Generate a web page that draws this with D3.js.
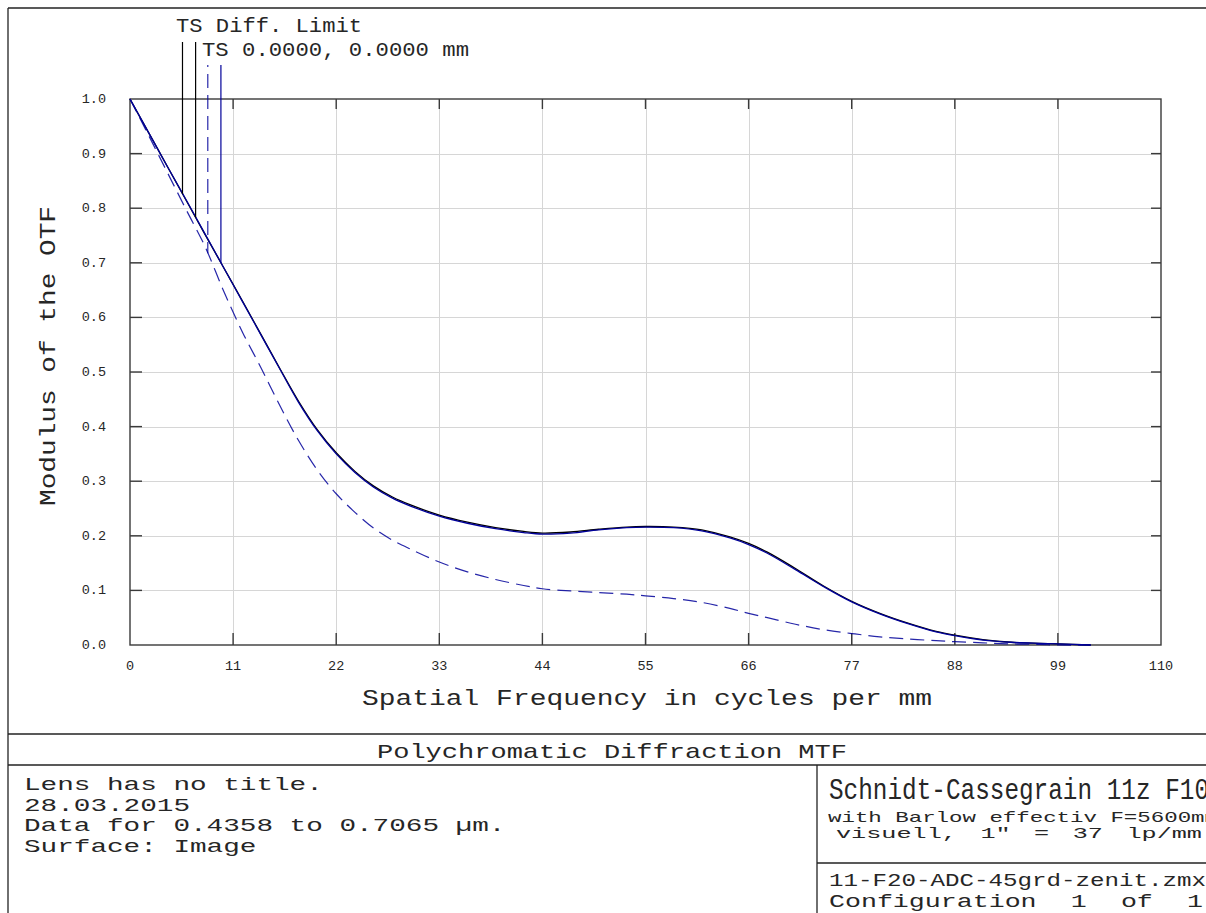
<!DOCTYPE html>
<html>
<head>
<meta charset="utf-8">
<script src="https://cdn.jsdelivr.net/npm/d3@7"></script>
<style>
	body { margin: 0; background: #fff; }
	svg { display: block; }
	text { font-family: "Liberation Mono", "Courier New", monospace; fill: #262626; }
</style>
</head>
<body>
<svg id="chart" width="1206" height="913"></svg>
<script>
//spatial frequency samples (cycles per mm)
var freq = [ 0, 2, 4, 6, 8, 10, 12, 14, 16, 18, 20, 22, 24, 26, 28, 30, 33, 36, 39, 42, 44, 47, 50, 53, 55, 58, 61, 64, 66, 68, 71, 74, 77, 80, 83, 86, 88, 91, 94, 97, 99, 102.5 ];

//modulus values
var diffLimit = [ 1.000, 0.938, 0.876, 0.814, 0.752, 0.691, 0.630, 0.568, 0.506, 0.446, 0.394, 0.352, 0.318, 0.291, 0.271, 0.256, 0.238, 0.225, 0.215, 0.208, 0.205, 0.207, 0.212, 0.216, 0.217, 0.216, 0.211, 0.198, 0.186, 0.170, 0.140, 0.108, 0.080, 0.058, 0.040, 0.025, 0.018, 0.010, 0.005, 0.003, 0.002, 0.000 ];
var tangential = [ 1.000, 0.938, 0.876, 0.815, 0.753, 0.691, 0.629, 0.567, 0.505, 0.444, 0.392, 0.350, 0.316, 0.289, 0.269, 0.254, 0.236, 0.223, 0.213, 0.206, 0.203, 0.205, 0.211, 0.215, 0.216, 0.215, 0.209, 0.196, 0.184, 0.168, 0.138, 0.107, 0.079, 0.057, 0.039, 0.024, 0.017, 0.009, 0.005, 0.003, 0.002, 0.000 ];
var sagittal = [ 1.000, 0.933, 0.865, 0.797, 0.730, 0.648, 0.573, 0.507, 0.438, 0.374, 0.320, 0.277, 0.243, 0.214, 0.192, 0.175, 0.152, 0.134, 0.120, 0.109, 0.103, 0.099, 0.096, 0.093, 0.090, 0.085, 0.078, 0.067, 0.058, 0.050, 0.038, 0.028, 0.021, 0.015, 0.011, 0.008, 0.006, 0.004, 0.002, 0.001, 0.000, 0.000 ];

//axis ticks
var xTicks = [ 0, 11, 22, 33, 44, 55, 66, 77, 88, 99, 110 ];
var yTicks = [ 0, 0.1, 0.2, 0.3, 0.4, 0.5, 0.6, 0.7, 0.8, 0.9, 1.0 ];

//legend marker frequencies
var diffMarkers = [ 5.6, 7.0 ];
var fieldMarkers = [ 8.3, 9.7 ];

//texts
var legendLabels = [ "TS Diff. Limit", "TS 0.0000, 0.0000 mm" ];
var xTitle = "Spatial Frequency in cycles per mm";
var yTitle = "Modulus of the OTF";
var plotTitle = "Polychromatic Diffraction MTF";
var infoLines = [ "Lens has no title.", "28.03.2015", "Data for 0.4358 to 0.7065 \u00b5m.", "Surface: Image" ];
var lensName = "Schnidt-Cassegrain 11z F10";
var lensNotes = [ "with Barlow effectiv F=5600mm", "visuell, 1\" = 37 lp/mm" ];
var fileLines = [ "11-F20-ADC-45grd-zenit.zmx", "Configuration 1 of 1" ];

;( function() {

	"use strict";

	var W = 1206, H = 913,
		plotLeft = 130, plotRight = 1161, plotTop = 99, plotBottom = 645,
		blue = "#00009a", frameColor = "#3a3a3a", gridColor = "#d6d6d6";

	var svg = d3.select( "#chart" );

	var x = d3.scaleLinear().domain( [ 0, 110 ] ).range( [ plotLeft, plotRight ] ),
		y = d3.scaleLinear().domain( [ 0, 1 ] ).range( [ plotBottom, plotTop ] );

	var txt = function( g, s, px, py, size, width, anchor ) {
		var t = g.append( "text" )
			.attr( "x", px )
			.attr( "y", py )
			.attr( "font-size", size )
			.attr( "text-anchor", anchor || "start" )
			.text( s );
		if( width ) {
			t.attr( "textLength", width ).attr( "lengthAdjust", "spacingAndGlyphs" );
		}
		return t;
	};

	//outer frame and info box lines
	var frame = svg.append( "g" ).attr( "stroke", "#222" ).attr( "stroke-width", 1.3 );
	frame.append( "line" ).attr( "x1", 8 ).attr( "y1", 8 ).attr( "x2", W ).attr( "y2", 8 );
	frame.append( "line" ).attr( "x1", 8 ).attr( "y1", 8 ).attr( "x2", 8 ).attr( "y2", H );
	frame.append( "line" ).attr( "x1", 8 ).attr( "y1", 734 ).attr( "x2", W ).attr( "y2", 734 );
	frame.append( "line" ).attr( "x1", 8 ).attr( "y1", 765 ).attr( "x2", W ).attr( "y2", 765 );
	frame.append( "line" ).attr( "x1", 817 ).attr( "y1", 765 ).attr( "x2", 817 ).attr( "y2", H );
	frame.append( "line" ).attr( "x1", 817 ).attr( "y1", 863 ).attr( "x2", W ).attr( "y2", 863 );

	//grid
	var grid = svg.append( "g" ).attr( "stroke", gridColor ).attr( "stroke-width", 1 );
	grid.selectAll( ".gx" ).data( xTicks.slice( 1, -1 ) ).enter().append( "line" )
		.attr( "x1", function( d ) { return Math.round( x( d ) ) + 0.5; } )
		.attr( "x2", function( d ) { return Math.round( x( d ) ) + 0.5; } )
		.attr( "y1", plotTop ).attr( "y2", plotBottom );
	grid.selectAll( ".gy" ).data( yTicks.slice( 1, -1 ) ).enter().append( "line" )
		.attr( "y1", function( d ) { return Math.round( y( d ) ) + 0.5; } )
		.attr( "y2", function( d ) { return Math.round( y( d ) ) + 0.5; } )
		.attr( "x1", plotLeft ).attr( "x2", plotRight );

	//frame of plot with inward ticks
	var axisG = svg.append( "g" ).attr( "stroke", frameColor ).attr( "stroke-width", 1.4 ).attr( "fill", "none" );
	axisG.append( "rect" ).attr( "x", plotLeft ).attr( "y", plotTop ).attr( "width", plotRight - plotLeft ).attr( "height", plotBottom - plotTop );
	axisG.selectAll( ".tb" ).data( xTicks.slice( 1, -1 ) ).enter().append( "line" )
		.attr( "x1", function( d ) { return x( d ); } ).attr( "x2", function( d ) { return x( d ); } )
		.attr( "y1", plotBottom ).attr( "y2", plotBottom - 12 );
	axisG.selectAll( ".tt" ).data( xTicks.slice( 1, -1 ) ).enter().append( "line" )
		.attr( "x1", function( d ) { return x( d ); } ).attr( "x2", function( d ) { return x( d ); } )
		.attr( "y1", plotTop ).attr( "y2", plotTop + 10 );
	axisG.selectAll( ".tl" ).data( yTicks.slice( 1, -1 ) ).enter().append( "line" )
		.attr( "y1", function( d ) { return y( d ); } ).attr( "y2", function( d ) { return y( d ); } )
		.attr( "x1", plotLeft ).attr( "x2", plotLeft + 12 );
	axisG.selectAll( ".tr" ).data( yTicks.slice( 1, -1 ) ).enter().append( "line" )
		.attr( "y1", function( d ) { return y( d ); } ).attr( "y2", function( d ) { return y( d ); } )
		.attr( "x1", plotRight ).attr( "x2", plotRight - 10 );

	//tick labels
	var labels = svg.append( "g" );
	xTicks.forEach( function( d ) {
		txt( labels, d, x( d ), 670, 13.5, null, "middle" );
	} );
	yTicks.forEach( function( d ) {
		txt( labels, d3.format( ".1f" )( d ), 106, y( d ) + 4, 13.5, null, "end" );
	} );

	//axis titles
	txt( labels, xTitle, 647, 705, 22, 570, "middle" );
	txt( labels, yTitle, 0, 0, 22, 300, "middle" ).attr( "transform", "translate(55,356) rotate(-90)" );

	//curves
	var line = function( values ) {
		return d3.line()
			.x( function( d, i ) { return x( freq[ i ] ); } )
			.y( function( d ) { return y( d ); } )
			.curve( d3.curveCatmullRom.alpha( 0.5 ) )( values );
	};
	var curves = svg.append( "g" ).attr( "fill", "none" );
	curves.append( "path" ).attr( "d", line( diffLimit ) ).attr( "stroke", "#000" ).attr( "stroke-width", 1.3 );
	curves.append( "path" ).attr( "d", line( sagittal ) ).attr( "stroke", blue ).attr( "stroke-width", 1.2 ).attr( "stroke-dasharray", "14,7" ).attr( "stroke-opacity", 0.85 );
	curves.append( "path" ).attr( "d", line( tangential ) ).attr( "stroke", blue ).attr( "stroke-width", 1.3 );

	//legend markers drop from label to curve
	var diffAt = d3.scaleLinear().domain( freq ).range( diffLimit ),
		sagAt = d3.scaleLinear().domain( freq ).range( sagittal ),
		tanAt = d3.scaleLinear().domain( freq ).range( tangential );
	var markers = svg.append( "g" ).attr( "fill", "none" ).attr( "stroke-width", 1.2 );
	diffMarkers.forEach( function( f ) {
		markers.append( "line" ).attr( "x1", x( f ) ).attr( "x2", x( f ) ).attr( "y1", 42 ).attr( "y2", y( diffAt( f ) ) ).attr( "stroke", "#000" );
	} );
	markers.append( "line" ).attr( "x1", x( fieldMarkers[ 0 ] ) ).attr( "x2", x( fieldMarkers[ 0 ] ) ).attr( "y1", 65 ).attr( "y2", y( sagAt( fieldMarkers[ 0 ] ) ) )
		.attr( "stroke", blue ).attr( "stroke-dasharray", "14,7" ).attr( "stroke-dashoffset", 12 ).attr( "stroke-opacity", 0.85 );
	markers.append( "line" ).attr( "x1", x( fieldMarkers[ 1 ] ) ).attr( "x2", x( fieldMarkers[ 1 ] ) ).attr( "y1", 65 ).attr( "y2", y( tanAt( fieldMarkers[ 1 ] ) ) )
		.attr( "stroke", blue );

	txt( labels, legendLabels[ 0 ], 176, 32, 20, 186 );
	txt( labels, legendLabels[ 1 ], 202, 56, 20, 267 );

	//info box
	txt( labels, plotTitle, 612, 758, 21, 470, "middle" );
	infoLines.forEach( function( s, i ) {
		txt( labels, s, 24, 790 + i * 20.5, 19, s.length * 16.6 );
	} );
	txt( labels, lensName, 829, 799, 30, 380 ).attr( "font-family", "Liberation Serif, serif" );
	txt( labels, lensNotes[ 0 ], 828, 822, 15, 390 );
	txt( labels, lensNotes[ 1 ], 836, 838, 15, 366 ).style( "word-spacing", "5px" );
	txt( labels, fileLines[ 0 ], 829, 886, 19, 377 );
	txt( labels, fileLines[ 1 ], 829, 907, 19, 374 ).style( "word-spacing", "13px" );

} )();
</script>
</body>
</html>
